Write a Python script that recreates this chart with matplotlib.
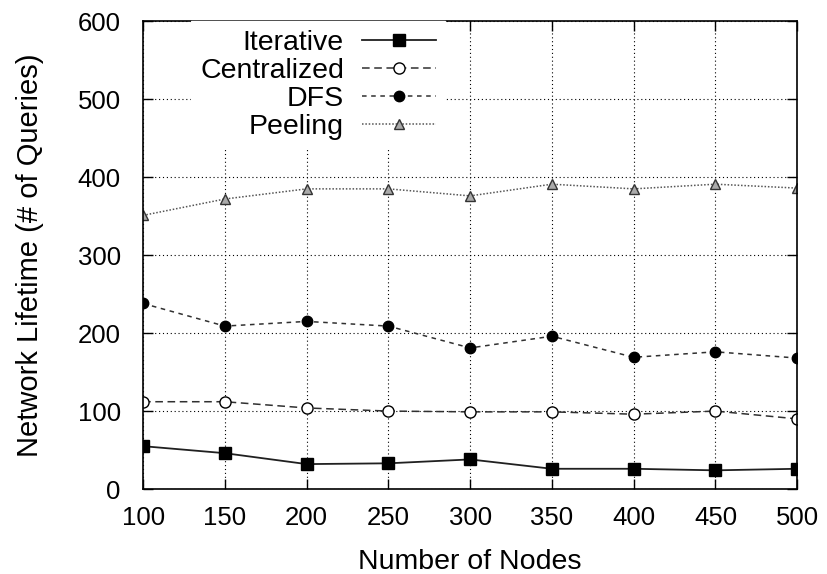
import matplotlib
matplotlib.use('Agg')
import matplotlib.pyplot as plt

# data
nodes = [100, 150, 200, 250, 300, 350, 400, 450, 500]
iterative = [55, 46, 32, 33, 38, 26, 26, 24, 26]
centralized = [112, 112, 104, 100, 99, 99, 96, 100, 90]
dfs = [238, 209, 215, 209, 181, 196, 169, 176, 168]
peeling = [351, 372, 385, 385, 376, 391, 385, 391, 386]

plt.rcParams['font.family'] = ['Liberation Sans', 'DejaVu Sans']
plt.rcParams['font.size'] = 20.5

fig = plt.figure(figsize=(8.27, 5.74), dpi=100)
ax = fig.add_axes([0.173, 0.148, 0.791, 0.815])

ax.plot(nodes, iterative, color='#202020', lw=1.3, ls='-', marker='s', ms=8,
        mfc='black', mec='black', label='Iterative')
ax.plot(nodes, centralized, color='#303030', lw=1.1, ls=(0, (5, 3)), marker='o', ms=8,
        mfc='white', mec='black', mew=1.0, label='Centralized')
ax.plot(nodes, dfs, color='#303030', lw=1.1, ls=(0, (3, 3)), marker='o', ms=7.5,
        mfc='black', mec='black', label='DFS')
ax.plot(nodes, peeling, color='#555555', lw=1.1, ls=(0, (1, 1.2)), marker='^', ms=6.5,
        mfc='#aaaaaa', mec='#333333', mew=1.0, label='Peeling')

ax.set_xlim(100, 500)
ax.set_ylim(0, 600)
ax.set_xticks(nodes)
ax.set_yticks(range(0, 601, 100))
ax.tick_params(direction='in', length=7, width=1, top=True, right=True, labelsize=18.5)
ax.tick_params(axis='x', pad=12)
ax.tick_params(axis='y', pad=16)
ax.grid(True, color='black', ls=(0, (1, 2.5)), lw=0.8)
for s in ax.spines.values():
    s.set_linewidth(1.2)

ax.set_xlabel('Number of Nodes', labelpad=14)
ax.set_ylabel('Network Lifetime (# of Queries)', labelpad=24, fontsize=21)

leg = ax.legend(loc='upper left', bbox_to_anchor=(0.074, 1.0), markerfirst=False,
                numpoints=1, handlelength=2.6, handletextpad=0.65, labelspacing=0.07,
                frameon=True, fancybox=False, borderpad=0.3, borderaxespad=0.0)
leg.get_frame().set_edgecolor('white')
leg.get_frame().set_facecolor('white')
leg.get_frame().set_alpha(1.0)
leg.set_zorder(5)

fig.savefig('out.png', dpi=100)
